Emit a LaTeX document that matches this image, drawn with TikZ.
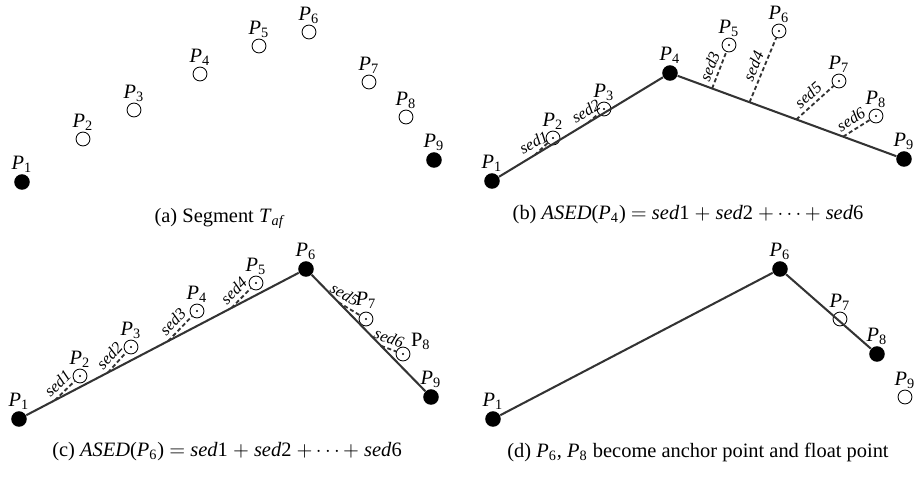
\documentclass[tikz,border=0pt]{standalone}
\usepackage{fontspec}
\setmainfont{Liberation Serif}
\usetikzlibrary{calc}

\newcommand{\Pn}[1]{\textit{P}\textsubscript{#1}}
\newcommand{\sedn}[1]{\textit{sed}#1}

\tikzset{
  anchorpt/.style={circle, fill=black, inner sep=0pt, minimum size=7.6pt},
  floatpt/.style={circle, draw=black, line width=0.4pt, inner sep=0pt, minimum size=6.8pt},
  sedpt/.style={floatpt, path picture={\fill (path picture bounding box.center) circle (0.6pt);}},
  seg/.style={line width=1pt, draw=black!80},
  sedline/.style={line width=0.9pt, draw=black!80, dash pattern=on 2pt off 1.3pt},
  sedlabel/.style={font=\footnotesize\itshape, sloped, above, inner sep=1.8pt},
  every label/.style={inner sep=0.5pt},
}

\begin{document}
\begin{tikzpicture}[x=0.0172cm, y=-0.0172cm]
    \useasboundingbox (0,0) rectangle (915,478);

    % (a) the segment
    \node[anchorpt, label=above:\Pn{1}] (a1) at (22,182) {};
    \node[floatpt, label=above:\Pn{2}] (a2) at (83,139) {};
    \node[floatpt, label=above:\Pn{3}] (a3) at (134,110) {};
    \node[floatpt, label=above:\Pn{4}] (a4) at (200,74) {};
    \node[floatpt, label=above:\Pn{5}] (a5) at (259,46) {};
    \node[floatpt, label=above:\Pn{6}] (a6) at (309,32) {};
    \node[floatpt, label=above:\Pn{7}] (a7) at (369,82) {};
    \node[floatpt, label=above:\Pn{8}] (a8) at (406,117) {};
    \node[anchorpt, label=above:\Pn{9}] (a9) at (434,160) {};
    \node (capa) at (220,218) {(a) Segment \textit{T}\textsubscript{\textit{af}}};

    % (b) anchor at P4
    \begin{scope}[shift={(470,-1)}]
      \node[anchorpt, label=above:\Pn{1}] (b1) at (22,182) {};
      \node[sedpt, label=above:\Pn{2}] (b2) at (83,139) {};
      \node[sedpt, label=above:\Pn{3}] (b3) at (134,110) {};
      \node[anchorpt, label=above:\Pn{4}] (b4) at (200,74) {};
      \node[sedpt, label=above:\Pn{5}] (b5) at (259,46) {};
      \node[sedpt, label=above:\Pn{6}] (b6) at (309,32) {};
      \node[sedpt, label=above:\Pn{7}] (b7) at (369,82) {};
      \node[sedpt, label=above:\Pn{8}] (b8) at (406,117) {};
      \node[anchorpt, label=above:\Pn{9}] (b9) at (434,160) {};
      \draw[seg] (b1) -- (b4) -- (b9);

      \coordinate (b2f) at ($(b1)!0.24!(b4)$);
      \coordinate (b3f) at ($(b1)!0.54!(b4)$);
      \coordinate (b5f) at ($(b4)!0.18!(b9)$);
      \coordinate (b6f) at ($(b4)!0.34!(b9)$);
      \coordinate (b7f) at ($(b4)!0.54!(b9)$);
      \coordinate (b8f) at ($(b4)!0.74!(b9)$);
      \draw[sedline] (b2f) -- node[sedlabel, pos=0.3, rotate=-15] {sed1} (b2);
      \draw[sedline] (b3f) -- node[sedlabel, pos=0.3, rotate=-10] {sed2} (b3);
      \draw[sedline] (b5f) -- node[sedlabel] {sed3} (b5);
      \draw[sedline] (b6f) -- node[sedlabel] {sed4} (b6);
      \draw[sedline] (b7f) -- node[sedlabel] {sed5} (b7);
      \draw[sedline] (b8f) -- node[sedlabel] {sed6} (b8);

      \node (capb) at (218,216) {(b) \textit{ASED}(\Pn{4}) $=$ \sedn{1} $+$ \sedn{2} $+\cdots+$ \sedn{6}};
    \end{scope}

    % (c) anchor at P6
    \begin{scope}[shift={(-3,237)}]
      \node[anchorpt, label=above:\Pn{1}] (c1) at (22,182) {};
      \node[sedpt, label=above:\Pn{2}] (c2) at (83,139) {};
      \node[sedpt, label=above:\Pn{3}] (c3) at (134,110) {};
      \node[sedpt, label=above:\Pn{4}] (c4) at (200,74) {};
      \node[sedpt, label=above:\Pn{5}] (c5) at (259,46) {};
      \node[anchorpt, label=above:\Pn{6}] (c6) at (309,32) {};
      \node[sedpt, label={[label distance=1pt]90:\Pn{7}}] (c7) at (369,82) {};
      \node[sedpt, label={[label distance=0pt]25:P\textsubscript{8}}] (c8) at (406,117) {};
      \node[anchorpt, label=above:\Pn{9}] (c9) at (434,160) {};
      \draw[seg] (c1) -- (c6) -- (c9);

      \coordinate (c2f) at ($(c1)!0.125!(c6)$);
      \coordinate (c3f) at ($(c1)!0.31!(c6)$);
      \coordinate (c4f) at ($(c1)!0.52!(c6)$);
      \coordinate (c5f) at ($(c1)!0.74!(c6)$);
      \coordinate (c7f) at ($(c6)!0.26!(c9)$);
      \coordinate (c8f) at ($(c6)!0.60!(c9)$);
      \draw[sedline] (c2f) -- node[sedlabel] {sed1} (c2);
      \draw[sedline] (c3f) -- node[sedlabel] {sed2} (c3);
      \draw[sedline] (c4f) -- node[sedlabel] {sed3} (c4);
      \draw[sedline] (c5f) -- node[sedlabel] {sed4} (c5);
      \draw[sedline] (c7f) -- node[sedlabel, pos=0.05] {sed5} (c7);
      \draw[sedline] (c8f) -- node[sedlabel, pos=0.3] {sed6} (c8);

      \node (capc) at (230,215) {(c) \textit{ASED}(\Pn{6}) $=$ \sedn{1} $+$ \sedn{2} $+\cdots+$ \sedn{6}};
    \end{scope}

    % (d) new anchor and float point
    \begin{scope}[shift={(471,237)}]
      \node[anchorpt, label=above:\Pn{1}] (d1) at (22,182) {};
      \node[anchorpt, label=above:\Pn{6}] (d6) at (309,32) {};
      \node[floatpt, label=above:\Pn{7}] (d7) at (369,82) {};
      \node[anchorpt, label=above:\Pn{8}] (d8) at (406,117) {};
      \node[floatpt, label=above:\Pn{9}] (d9) at (434,160) {};
      \draw[seg] (d1) -- (d6) -- (d8);

      \node (capd) at (227,215) {(d) \Pn{6}, \Pn{8} become anchor point and float point};
    \end{scope}
\end{tikzpicture}
\end{document}
